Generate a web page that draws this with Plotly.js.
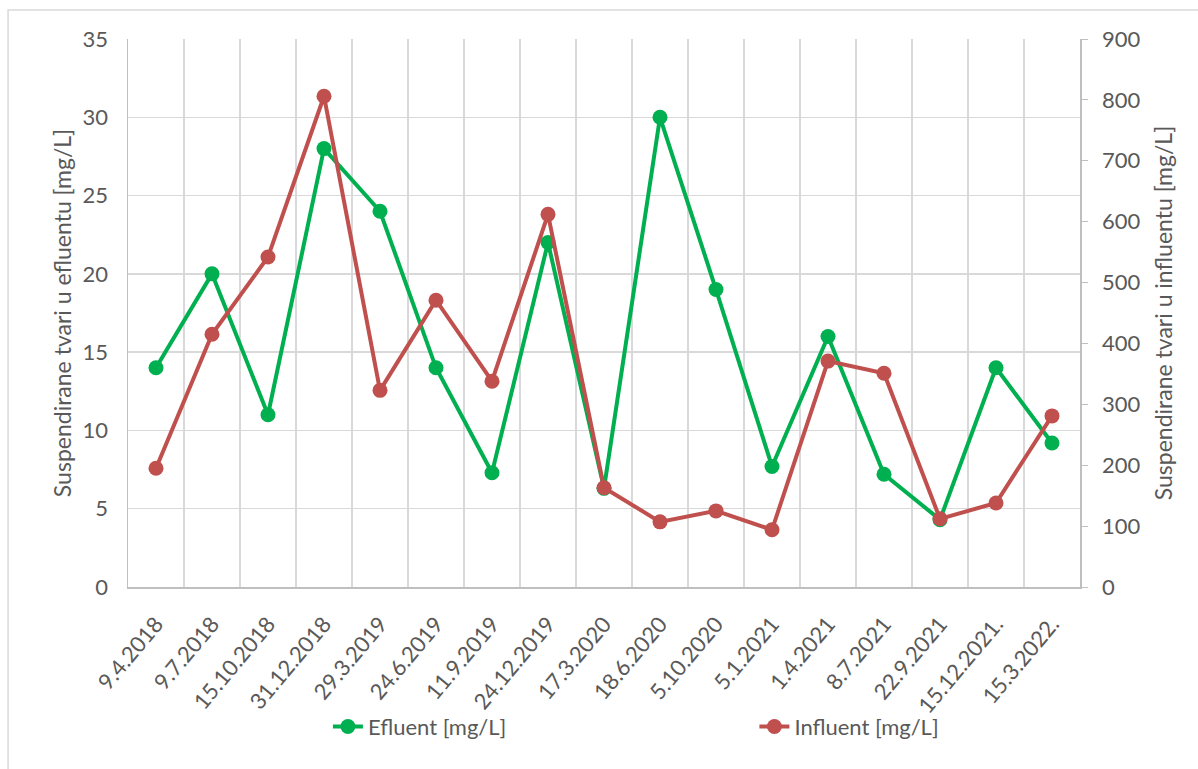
<!DOCTYPE html>
<html>
<head>
<meta charset="utf-8">
<script src="https://cdn.plot.ly/plotly-3.0.1.min.js"></script>
<style>html,body{margin:0;padding:0;background:#fff;}#chart{width:1198px;height:769px;}</style>
</head>
<body>
<div id="chart"></div>
<script>
const categories = ["9.4.2018","9.7.2018","15.10.2018","31.12.2018","29.3.2019","24.6.2019","11.9.2019","24.12.2019","17.3.2020","18.6.2020","5.10.2020","5.1.2021","1.4.2021","8.7.2021","22.9.2021","15.12.2021.","15.3.2022."];
const efluent = [14, 20, 11, 28, 24, 14, 7.3, 22, 6.3, 30, 19, 7.7, 16, 7.2, 4.3, 14, 9.2];
const influent = [195, 415, 542, 806, 323, 471, 338, 612, 163, 107, 125, 94, 371, 351, 112, 138, 281];
const leftTicks = [0, 5, 10, 15, 20, 25, 30, 35];
const rightTicks = [0, 100, 200, 300, 400, 500, 600, 700, 800, 900];

const FONT = "Lato, 'Open Sans', sans-serif";
const TXT = "#595959";
const traces = [
  {x: categories, y: efluent, name: "Efluent [mg/L]", type: "scatter", mode: "lines+markers",
   line: {color: "#00b050", width: 4}, marker: {color: "#00b050", size: 15}, yaxis: "y", legend: "legend"},
  {x: categories, y: influent, name: "Influent [mg/L]", type: "scatter", mode: "lines+markers",
   line: {color: "#c0504d", width: 4}, marker: {color: "#c0504d", size: 15}, yaxis: "y2", legend: "legend2"}
];
const legendBase = {orientation: "h", xanchor: "left", y: -0.255, yanchor: "middle",
                    font: {family: FONT, size: 22, color: TXT}, bgcolor: "rgba(0,0,0,0)"};
const layout = {
  width: 1198, height: 769,
  margin: {l: 128, r: 118, t: 39, b: 182},
  paper_bgcolor: "#fff", plot_bgcolor: "#fff",
  font: {family: FONT, size: 22, color: TXT},
  showlegend: true,
  legend: Object.assign({}, legendBase, {x: 0.21}),
  legend2: Object.assign({}, legendBase, {x: 0.658}),
  xaxis: {type: "category", tickangle: -50, tickson: "boundaries", showgrid: true, gridcolor: "#d9d9d9", gridwidth: 1.3,
          showline: true, linecolor: "#bfbfbf", linewidth: 1.5, ticks: "", tickfont: {size: 22, color: TXT},
          ticklabelstandoff: 14, ticklabelshift: 0,
          range: [-0.5, 16.5], zeroline: false},
  yaxis: {range: [0, 35], tickvals: leftTicks, showgrid: true, gridcolor: "#d9d9d9", gridwidth: 1.3,
          showline: true, linecolor: "#bfbfbf", linewidth: 1.5, zeroline: false, ticks: "",
          tickfont: {size: 22, color: TXT}, ticklabelstandoff: 14,
          title: {text: "Suspendirane tvari u efluentu [mg/L]", font: {size: 23, color: TXT}, standoff: 4}},
  yaxis2: {range: [0, 900], tickvals: rightTicks, overlaying: "y", side: "right", showgrid: false,
           showline: true, linecolor: "#bfbfbf", linewidth: 1.5, zeroline: false, ticks: "outside", ticklen: 6, tickcolor: "#bfbfbf",
           tickfont: {size: 22, color: TXT}, ticklabelstandoff: 10,
           title: {text: "Suspendirane tvari u influentu [mg/L]", font: {size: 23, color: TXT}, standoff: 16}},
  shapes: [{type: "rect", xref: "paper", yref: "paper", x0: -0.126, x1: 1.3, y0: -0.6, y1: 1.053,
            line: {color: "#d9d9d9", width: 1.5}, fillcolor: "rgba(0,0,0,0)", layer: "below"}]
};
Plotly.newPlot("chart", traces, layout, {displayModeBar: false, staticPlot: true});
</script>
</body>
</html>
